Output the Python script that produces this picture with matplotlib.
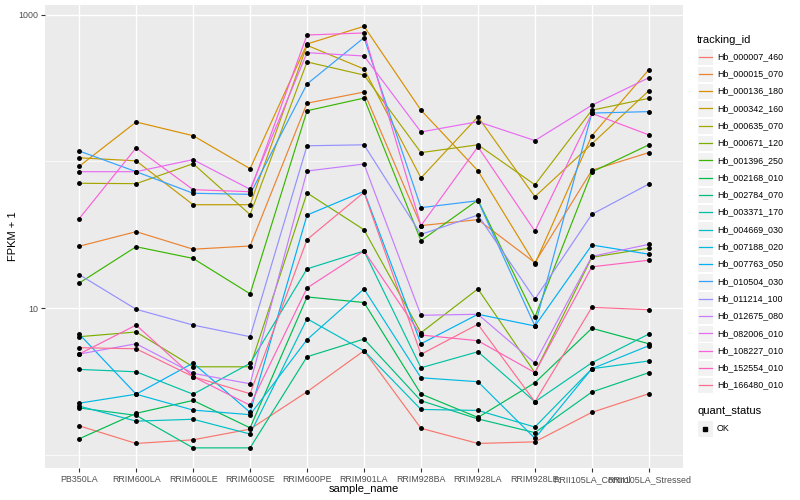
import matplotlib
matplotlib.use("Agg")
import matplotlib.pyplot as plt
from matplotlib.patches import Rectangle
from matplotlib.ticker import FixedLocator, NullFormatter

plt.rcParams['font.family'] = ['Liberation Sans', 'DejaVu Sans']

samples = ['PB350LA', 'RRIM600LA', 'RRIM600LE', 'RRIM600SE', 'RRIM600PE', 'RRIM901LA',
           'RRIM928BA', 'RRIM928LA', 'RRIM928LE', 'RRII105LA_Control', 'RRII105LA_Stressed']

tracking_ids = ['Hb_000007_460', 'Hb_000015_070', 'Hb_000136_180', 'Hb_000342_160',
                'Hb_000635_070', 'Hb_000671_120', 'Hb_001396_250', 'Hb_002168_010',
                'Hb_002784_070', 'Hb_003371_170', 'Hb_004669_030', 'Hb_007188_020',
                'Hb_007763_050', 'Hb_010504_030', 'Hb_011214_100', 'Hb_012675_080',
                'Hb_082006_010', 'Hb_108227_010', 'Hb_152554_010', 'Hb_166480_010']

# ggplot hue palette, 20 levels
colors = ['#F8766D', '#EA8331', '#D89000', '#C09B00', '#A3A500', '#7CAE00', '#39B600',
          '#00BB4E', '#00BF7D', '#00C1A3', '#00BFC4', '#00BAE0', '#00B0F6', '#35A2FF',
          '#9590FF', '#C77CFF', '#E76BF3', '#FA62DB', '#FF62BC', '#FF6C90']

# FPKM + 1, one list per gene, in sample order
hb_000007_460 = [1.57, 1.19, 1.26, 1.49, 2.68, 5.11, 1.51, 1.19, 1.22, 1.94, 2.60]
hb_000015_070 = [26.4, 33.2, 25.2, 26.5, 250, 298, 36.5, 40.1, 20.4, 87.1, 115]
hb_000136_180 = [92.7, 186, 150, 89.3, 634, 837, 224, 86.5, 20.0, 150, 423]
hb_000342_160 = [106, 101, 50.7, 50.7, 621, 428, 77.2, 202, 57.5, 132, 304]
hb_000635_070 = [71.0, 70.6, 96.6, 43.4, 478, 389, 115, 130, 69.4, 224, 270]
hb_000671_120 = [6.37, 6.86, 3.97, 3.97, 61.0, 34.2, 6.78, 13.5, 3.62, 22.2, 25.6]
hb_001396_250 = [14.8, 26.2, 21.8, 12.5, 222, 271, 28.8, 54.6, 8.68, 84.8, 130]
hb_002168_010 = [1.28, 1.91, 2.34, 1.52, 11.9, 10.9, 2.59, 1.79, 3.09, 7.27, 5.70]
hb_002784_070 = [2.08, 1.85, 1.11, 1.11, 4.65, 6.14, 2.33, 1.75, 1.41, 2.67, 3.62]
hb_003371_170 = [3.81, 3.67, 2.58, 4.19, 18.5, 24.5, 3.91, 5.03, 2.29, 4.23, 6.64]
hb_004669_030 = [2.14, 1.69, 1.74, 1.38, 8.45, 5.11, 2.03, 2.00, 1.54, 3.85, 4.35]
hb_007188_020 = [2.24, 2.58, 2.01, 1.87, 6.08, 13.5, 3.34, 3.14, 1.29, 3.85, 5.53]
hb_007763_050 = [6.64, 2.58, 4.21, 1.94, 43.1, 62.6, 5.70, 9.06, 7.54, 26.9, 23.3]
hb_010504_030 = [118, 85.2, 60.7, 59.7, 338, 700, 48.4, 54.0, 7.54, 214, 219]
hb_011214_100 = [16.9, 9.80, 7.65, 6.37, 128, 130, 31.8, 43.1, 11.5, 43.6, 70.2]
hb_012675_080 = [4.85, 5.70, 3.58, 3.04, 86.1, 96.1, 8.92, 9.06, 4.21, 22.5, 27.2]
hb_082006_010 = [85.2, 85.2, 103, 64.6, 553, 525, 159, 187, 139, 242, 373]
hb_108227_010 = [40.7, 124, 64.2, 62.2, 730, 754, 36.5, 126, 33.5, 213, 152]
hb_152554_010 = [4.85, 7.65, 3.40, 2.17, 13.7, 24.5, 6.54, 5.98, 3.62, 19.1, 21.2]
hb_166480_010 = [5.36, 5.27, 3.40, 2.60, 29.3, 61.6, 4.83, 7.74, 2.29, 10.1, 9.74]

series = [hb_000007_460, hb_000015_070, hb_000136_180, hb_000342_160, hb_000635_070,
          hb_000671_120, hb_001396_250, hb_002168_010, hb_002784_070, hb_003371_170,
          hb_004669_030, hb_007188_020, hb_007763_050, hb_010504_030, hb_011214_100,
          hb_012675_080, hb_082006_010, hb_108227_010, hb_152554_010, hb_166480_010]

W, H = 800, 500
fig = plt.figure(figsize=(8, 5), dpi=100)
ax = fig.add_axes([45 / W, 1 - 468 / H, (683 - 45) / W, (468 - 5) / H])
ax.set_facecolor('#EBEBEB')

x = list(range(len(samples)))
for vals, c in zip(series, colors):
    ax.plot(x, vals, color=c, lw=0.85, zorder=2)
for vals in series:
    ax.plot(x, vals, ls='none', marker='o', ms=2.5, color='black', zorder=3)

ax.set_yscale('log')
ax.set_ylim(0.809, 1170)
ax.set_xlim(-0.6, len(samples) - 0.4)
ax.yaxis.set_major_locator(FixedLocator([10, 1000]))
ax.yaxis.set_minor_locator(FixedLocator([1, 100]))
ax.yaxis.set_minor_formatter(NullFormatter())
ax.set_yticklabels(['10', '1000'])
ax.set_xticks(x)
ax.set_xticklabels(samples)
ax.grid(which='major', color='white', lw=1.0)
ax.grid(which='minor', axis='y', color='white', lw=0.5)
ax.set_axisbelow(True)
ax.tick_params(which='major', length=3, width=0.8, color='#333333', labelcolor='#4D4D4D',
               labelsize=6.4, pad=2)
ax.tick_params(which='minor', length=0)
for s in ax.spines.values():
    s.set_visible(False)
ax.set_xlabel('sample_name', fontsize=8, labelpad=0)
ax.set_ylabel('FPKM + 1', fontsize=8, labelpad=0)

# legends drawn in pixel coordinates
lg = fig.add_axes([0, 0, 1, 1], facecolor='none')
lg.set_xlim(0, W)
lg.set_ylim(H, 0)
lg.axis('off')
lg.text(697, 40, 'tracking_id', fontsize=8, va='center', ha='left')
y0, step = 56.5, 17.3
for i, (name, c) in enumerate(zip(tracking_ids, colors)):
    yc = y0 + i * step
    lg.add_patch(Rectangle((697, yc - 8.2), 16.4, 16.4, facecolor='#F2F2F2',
                           edgecolor='white', lw=0.8))
    lg.plot([698.5, 711.5], [yc, yc], color=c, lw=0.9)
    lg.text(717, yc, name, fontsize=6.4, va='center', ha='left')

lg.text(697, 411, 'quant_status', fontsize=8, va='center', ha='left')
lg.add_patch(Rectangle((697, 428.5 - 8.2), 16.4, 16.4, facecolor='#F2F2F2',
                       edgecolor='white', lw=0.8))
lg.plot([705.2], [428.5], marker='s', ms=2.5, color='black')
lg.text(717, 428.5, 'OK', fontsize=6.4, va='center', ha='left')

fig.savefig('out.png', dpi=100)
